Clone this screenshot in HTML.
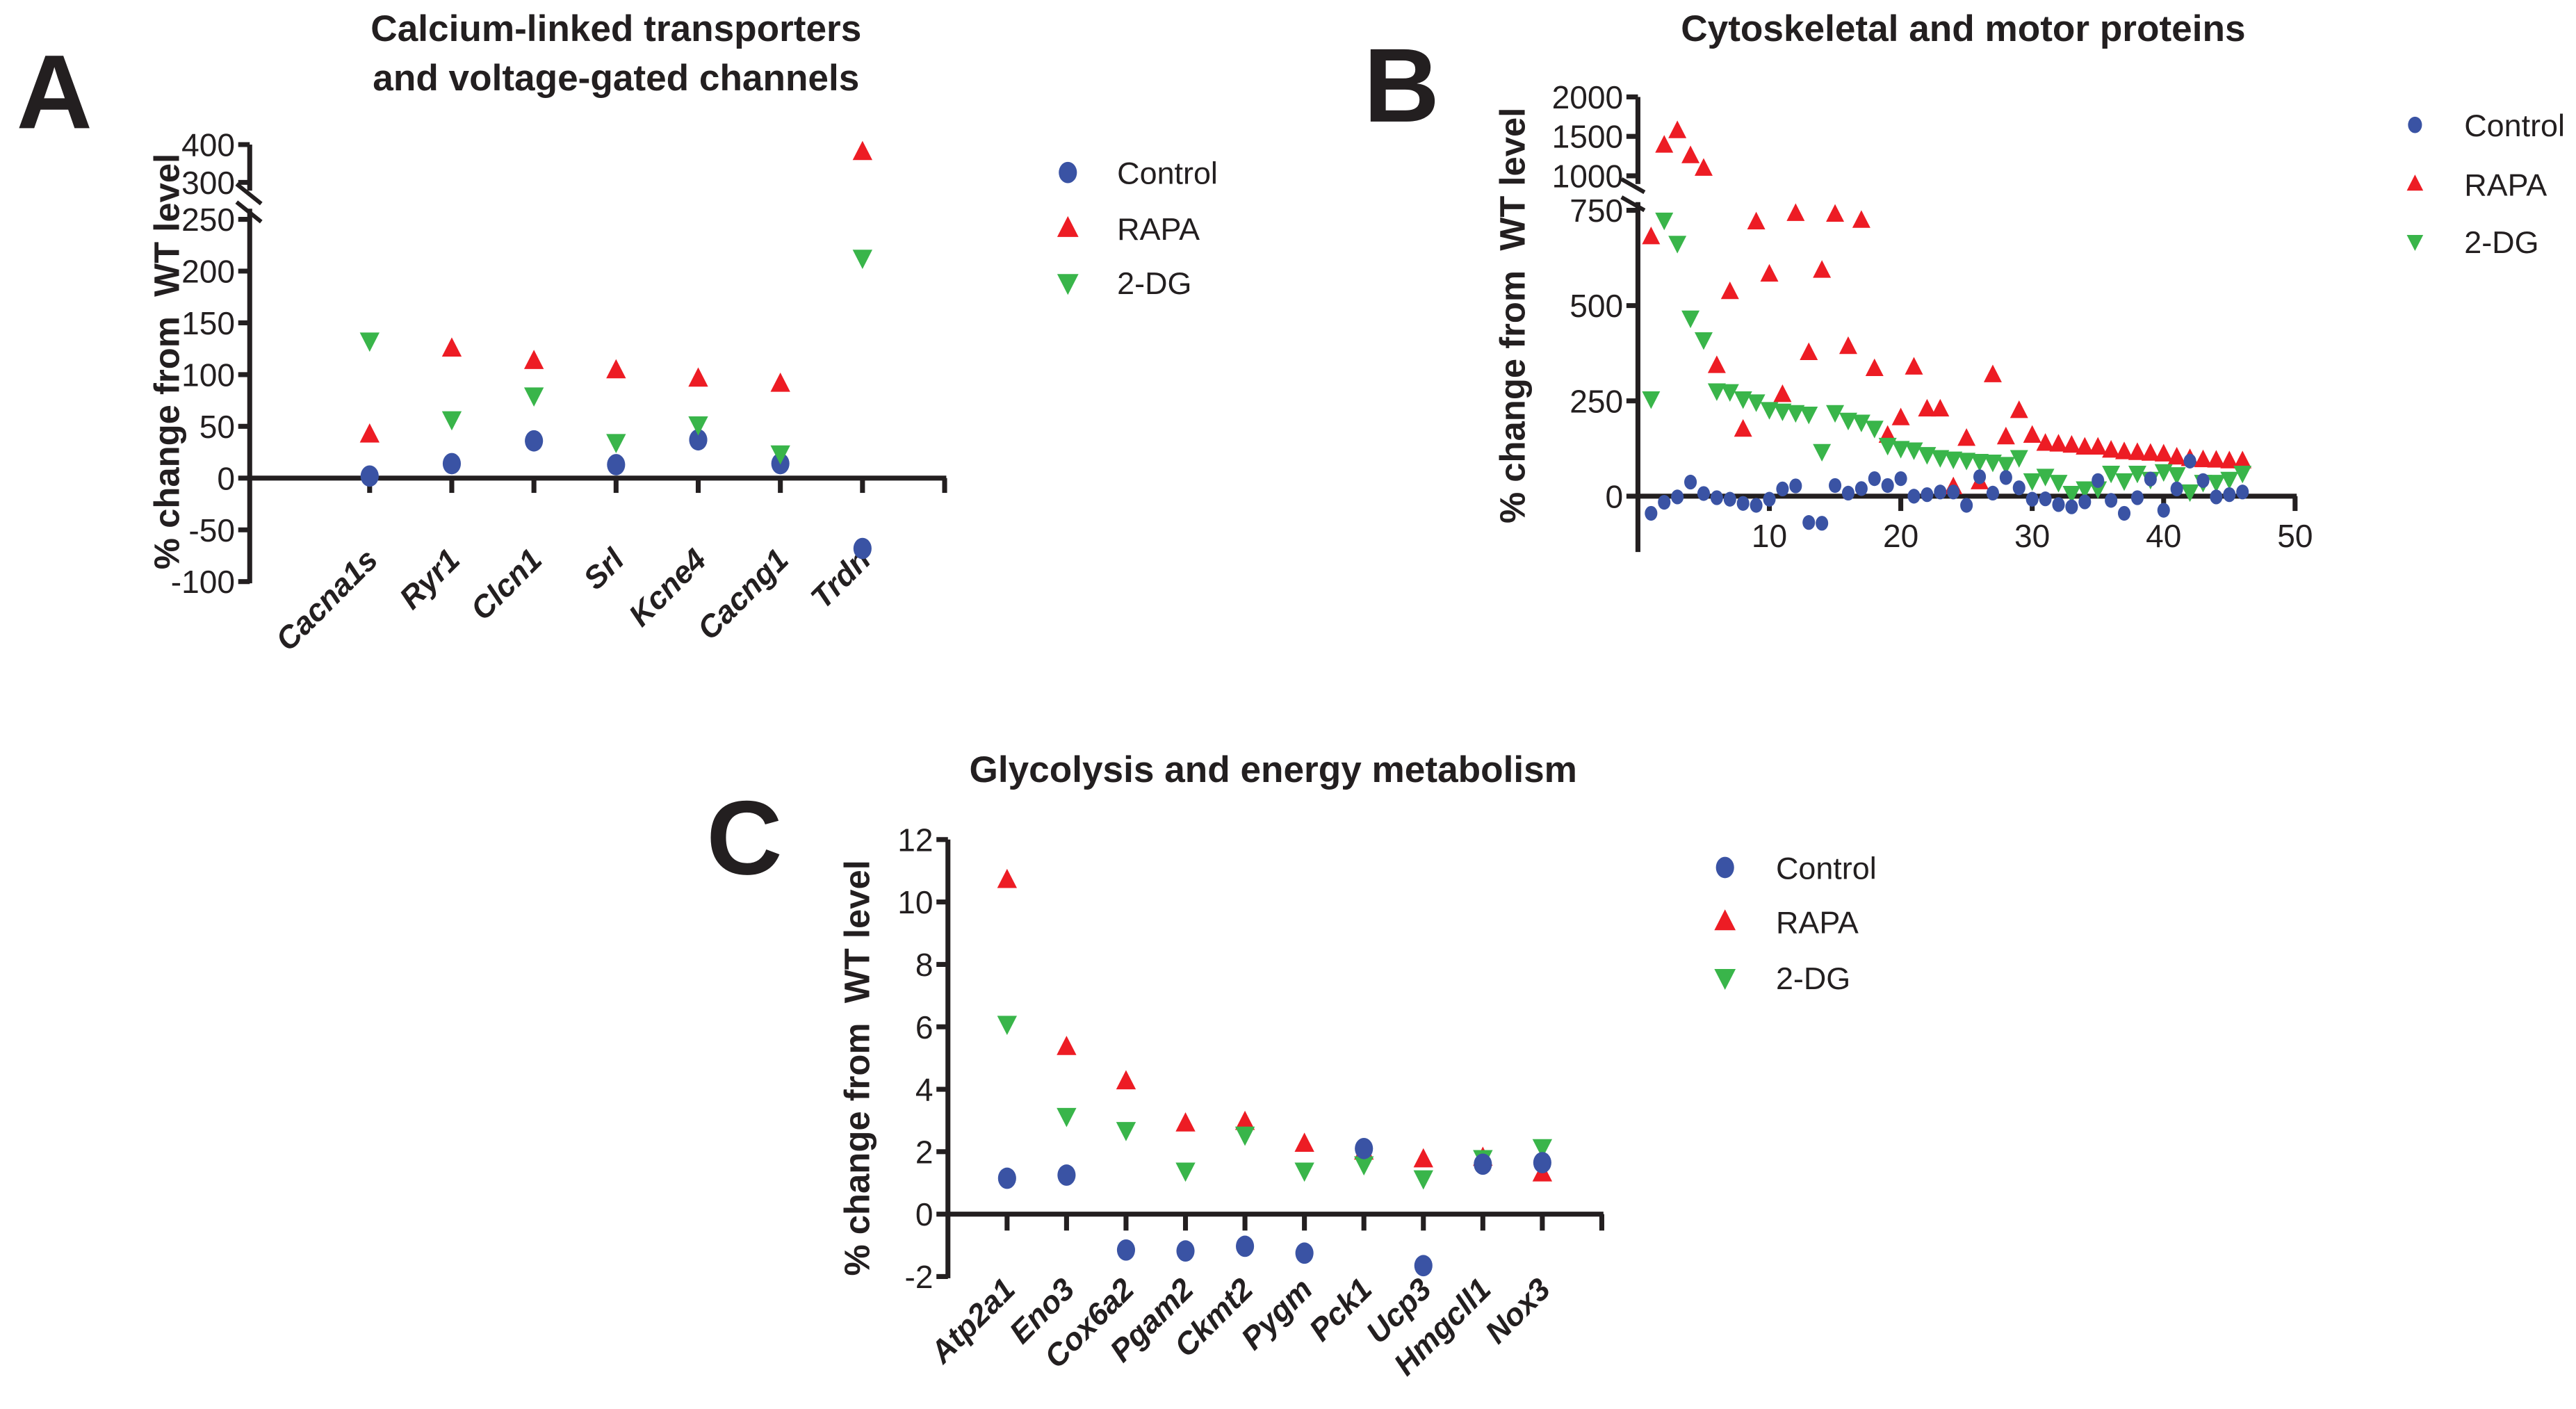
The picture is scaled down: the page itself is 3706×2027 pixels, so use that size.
<!DOCTYPE html>
<html><head><meta charset="utf-8">
<style>
html,body{margin:0;padding:0;background:#fff;}
svg{display:block;}
text{font-family:"Liberation Sans",sans-serif;fill:#231f20;}
.tick{font-size:19.5px;}
.title{font-size:22.5px;font-weight:bold;}
.letter{font-size:64px;font-weight:bold;}
.ylab{font-size:21.5px;font-weight:bold;white-space:pre;}
.cat{font-size:19px;font-weight:bold;font-style:italic;}
.leg{font-size:19px;}
</style></head>
<body>
<svg id="chart" width="3706" height="2027" viewBox="0 0 1568 857.6" xmlns="http://www.w3.org/2000/svg">
<g id="gA"></g>
<g id="gB"></g>
<g id="gC"></g>
</svg>
<script>
// Panel A data
const catsA = ["Cacna1s","Ryr1","Clcn1","Srl","Kcne4","Cacng1","Trdn"];
const ctrlA = [2,14,36,13,37,14,-68];
const rapaA = [42,125,113,104,96,91,380];
const dgA = [133,57,80,35,52,24,213];
const ticksA = [-100,-50,0,50,100,150,200,250,300,400];
// Panel B data
const ctrlB = [-45,-16,-2,37,7,-4,-8,-19,-24,-8,19,27,-69,-71,28,8,20,46,28,46,0,4,11,11,-24,51,8,49,22,-8,-7,-22,-28,-15,41,-11,-45,-4,45,-37,19,92,41,-2,4,11];
const rapaB = [680,1385,1569,1252,1092,342,536,175,719,582,266,741,376,592,739,392,723,334,159,205,338,228,228,24,151,37,318,155,224,159,138,136,133,128,128,120,116,114,112,110,102,98,95,94,92,92];
const dgB = [256,725,664,468,411,277,275,256,248,228,224,220,216,118,220,200,195,179,134,126,122,110,102,98,95,92,90,84,102,41,53,37,8,20,20,61,41,61,45,65,57,12,37,37,45,61];
const ticksBy = [0,250,500,750,1000,1500,2000];
const ticksBx = [10,20,30,40,50];
// Panel C data
const catsC = ["Atp2a1","Eno3","Cox6a2","Pgam2","Ckmt2","Pygm","Pck1","Ucp3","Hmgcll1","Nox3"];
const ctrlC = [1.15,1.25,-1.15,-1.18,-1.03,-1.25,2.1,-1.65,1.6,1.65];
const rapaC = [10.7,5.35,4.25,2.9,2.95,2.25,2.0,1.75,1.8,1.3];
const dgC = [6.1,3.15,2.7,1.4,2.55,1.4,1.6,1.15,1.8,2.15];
const ticksC = [-2,0,2,4,6,8,10,12];

const NS="http://www.w3.org/2000/svg";
const BLUE="#3a53a4", RED="#ed1c24", GREEN="#39b54a", INK="#231f20";
const YTITLE="% change from\u00a0\u00a0WT level";
function mk(parent,tag,attrs,txt){const e=document.createElementNS(NS,tag);for(const k in attrs)e.setAttribute(k,attrs[k]);if(txt!==undefined)e.textContent=txt;parent.appendChild(e);return e;}
function line(p,x1,y1,x2,y2,w){return mk(p,"line",{x1:x1,y1:y1,x2:x2,y2:y2,stroke:INK,"stroke-width":w||3});}
function marker(p,type,x,y,s,name){
  let e;
  if(type==="c"){e=mk(p,"ellipse",{cx:x,cy:y,rx:s*0.85,ry:s,fill:BLUE});}
  else if(type==="u"){e=mk(p,"polygon",{points:`${x},${y-s*1.15} ${x-s},${y+s*0.8} ${x+s},${y+s*0.8}`,fill:RED});}
  else {e=mk(p,"polygon",{points:`${x},${y+s*1.15} ${x-s},${y-s*0.8} ${x+s},${y-s*0.8}`,fill:GREEN});}
  
  
  return e;
}
function legend(p,x,tx,ys,s){
  const labs=["Control","RAPA","2-DG"],types=["c","u","d"];
  for(let i=0;i<3;i++){
    marker(p,types[i],x,ys[i],s,"legend-marker-"+labs[i].toLowerCase());
    const t=mk(p,"text",{x:tx,y:ys[i]+7,class:"leg"},labs[i]);
    
    
  }
}
function txt(p,x,y,cls,s,anchor,name,extra){
  const t=mk(p,"text",Object.assign({x:x,y:y,class:cls,"text-anchor":anchor||"start"},extra||{}),s);
  
  
  return t;
}

// ===== Panel A =====
(function(){
  const g=document.getElementById("gA");
  const ax=152, x0=225, dx=50;
  const yA=v=> v<=250 ? 291-v*0.63 : 111-(v-300)*0.23;
  const xA=i=> x0+i*dx;
  txt(g,10,78,"letter","A","start","panel-letter-a");
  txt(g,375,25,"title","Calcium-linked transporters","middle","title-a-line1");
  txt(g,375,55,"title","and voltage-gated channels","middle","title-a-line2");
  txt(g,0,0,"ylab",YTITLE,"middle","y-axis-title-a",{transform:"translate(109,220) rotate(-90)"});
  line(g,ax,88,ax,116); line(g,ax,127,ax,355);
  line(g,ax-8,112,ax+7,124,2.5); line(g,ax-8,123,ax+7,135,2.5);
  line(g,ax,291,576,291);
  ticksA.forEach(v=>{const y=yA(v);line(g,ax-7,y,ax,y);txt(g,ax-9,y+7,"tick",String(v),"end","y-tick-a");});
  for(let i=0;i<=catsA.length;i++){line(g,xA(i),291,xA(i),300);}
  catsA.forEach((c,i)=>{txt(g,0,0,"cat",c,"end","x-label-"+c.toLowerCase(),{transform:`translate(${xA(i)+6},${342}) rotate(-45)`});});
  ctrlA.forEach((v,i)=>marker(g,"c",xA(i),yA(v),6.5,"control-point"));
  rapaA.forEach((v,i)=>marker(g,"u",xA(i),yA(v),6,"rapa-point"));
  dgA.forEach((v,i)=>marker(g,"d",xA(i),yA(v),6,"dg-point"));
  legend(g,650,680,[105,139,172],6.5);
})();

// ===== Panel B =====
(function(){
  const g=document.getElementById("gB");
  const ax=997;
  const yB=v=> v<=750 ? 302-v*0.232 : 107-(v-1000)*0.048;
  const xB=v=> ax+v*8;
  txt(g,830,74,"letter","B","start","panel-letter-b");
  txt(g,1195,25,"title","Cytoskeletal and motor proteins","middle","title-b");
  txt(g,0,0,"ylab",YTITLE,"middle","y-axis-title-b",{transform:"translate(928,192) rotate(-90)"});
  line(g,ax,59,ax,112); line(g,ax,123,ax,336);
  line(g,ax-10,109,ax+4,117,2.5); line(g,ax-10,120,ax+4,128,2.5);
  line(g,ax,302,1398,302);
  ticksBy.forEach(v=>{const y=yB(v);line(g,ax-7,y,ax,y);txt(g,ax-9,y+7,"tick",String(v),"end","y-tick-b");});
  ticksBx.forEach(v=>{const x=xB(v);line(g,x,302,x,311);txt(g,x,333,"tick",String(v),"middle","x-tick-b");});
  rapaB.forEach((v,i)=>marker(g,"u",xB(i+1),yB(v),5.5,"rapa-point"));
  dgB.forEach((v,i)=>marker(g,"d",xB(i+1),yB(v),5.5,"dg-point"));
  ctrlB.forEach((v,i)=>marker(g,"c",xB(i+1),yB(v),4.5,"control-point"));
  legend(g,1470,1500,[76,112,147],5);
})();

// ===== Panel C =====
(function(){
  const g=document.getElementById("gC");
  const ax=577, x0=613, dx=36.2;
  const yC=v=> 739-v*19;
  const xC=i=> x0+i*dx;
  txt(g,430,532,"letter","C","start","panel-letter-c");
  txt(g,775,476,"title","Glycolysis and energy metabolism","middle","title-c");
  txt(g,0,0,"ylab",YTITLE,"middle","y-axis-title-c",{transform:"translate(529,650) rotate(-90)"});
  line(g,ax,511,ax,778);
  line(g,ax,739,976,739);
  ticksC.forEach(v=>{const y=yC(v);line(g,ax-7,y,ax,y);txt(g,ax-9,y+7,"tick",String(v),"end","y-tick-c");});
  for(let i=0;i<=catsC.length;i++){line(g,xC(i),739,xC(i),749);}
  catsC.forEach((c,i)=>{txt(g,0,0,"cat",c,"end","x-label-"+c.toLowerCase(),{transform:`translate(${xC(i)+6},${786}) rotate(-45)`});});
  rapaC.forEach((v,i)=>marker(g,"u",xC(i),yC(v),6,"rapa-point"));
  dgC.forEach((v,i)=>marker(g,"d",xC(i),yC(v),6,"dg-point"));
  ctrlC.forEach((v,i)=>marker(g,"c",xC(i),yC(v),6.5,"control-point"));
  legend(g,1050,1081,[528,561,595],6.5);
})();
</script>
</body></html>
